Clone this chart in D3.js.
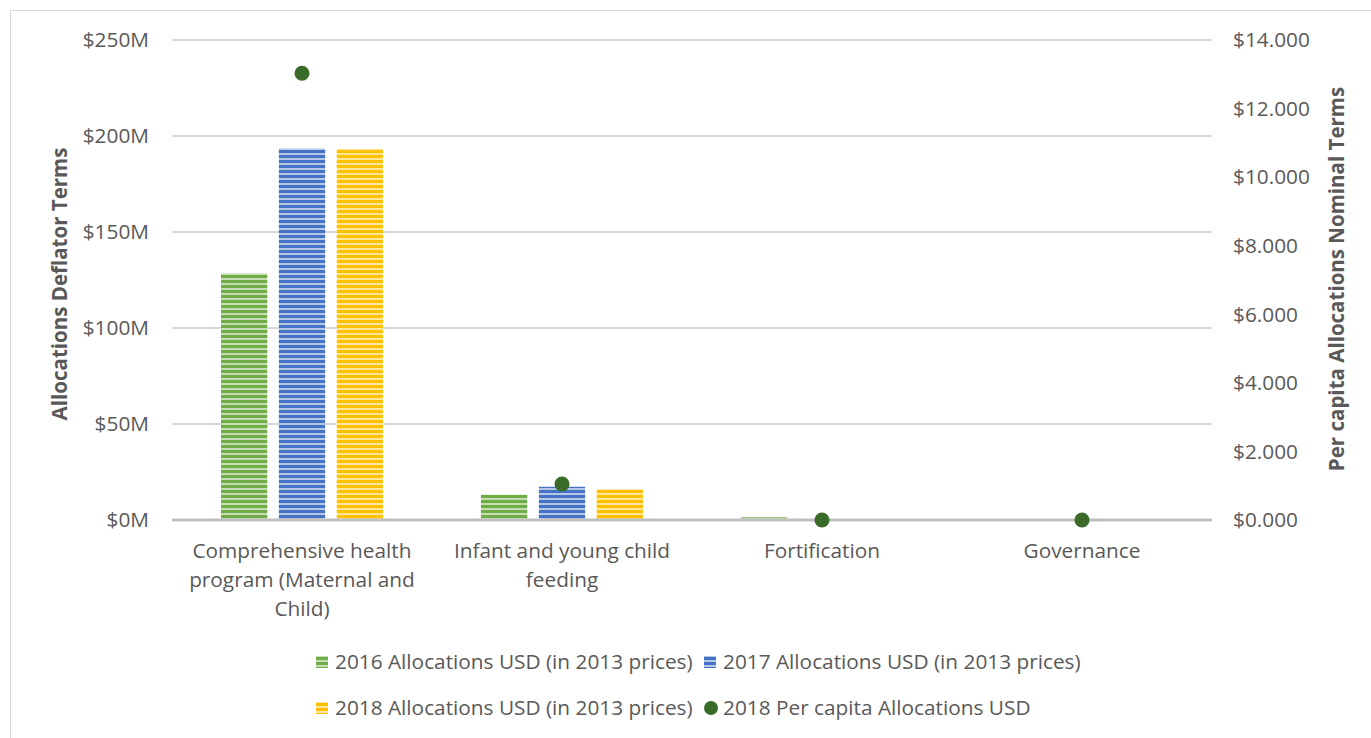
<!DOCTYPE html>
<html>
<head>
<meta charset="utf-8">
<script src="https://cdn.jsdelivr.net/npm/d3@7"></script>
<style>
  body { margin: 0; background: #fff; }
  svg { font-family: "Open Sans", "Noto Sans", sans-serif; }
</style>
</head>
<body>
<div id="chart"></div>
<script>
// données du graphique
const categories = [
  ["Comprehensive health", "program (Maternal and", "Child)"],
  ["Infant and young child", "feeding"],
  ["Fortification"],
  ["Governance"]
];
const seriesNames = [
  "2016 Allocations USD (in 2013 prices)",
  "2017 Allocations USD (in 2013 prices)",
  "2018 Allocations USD (in 2013 prices)"
];
const alloc2016 = [128.5, 13.2, 1.4, 0.3];
const alloc2017 = [193.5, 17.3, 0.3, 0.3];
const alloc2018 = [193.3, 16.0, 0.3, 0.3];
const perCapita2018 = [13.03, 1.05, 0.0, 0.0];
const leftTicks = [0, 50, 100, 150, 200, 250];
const rightTicks = [0, 2, 4, 6, 8, 10, 12, 14];

const width = 1371, height = 738;
const margin = { left: 172, right: 159, top: 40, bottom: 218 };
const colors = ["#70ad47", "#4472c4", "#ffc000"];
const dotColor = "#3a6b28";
const fontSize = 20.8;
const titleSize = 20.5;

const svg = d3.select("#chart").append("svg")
  .attr("width", width).attr("height", height);

// motifs rayés pour les barres
const defs = svg.append("defs");
colors.forEach((c, i) => {
  const p = defs.append("pattern")
    .attr("id", "stripe" + i)
    .attr("patternUnits", "userSpaceOnUse")
    .attr("width", 8).attr("height", 5);
  p.append("rect").attr("width", 8).attr("height", 5).attr("fill", c);
  p.append("rect").attr("y", 3).attr("width", 8).attr("height", 2)
    .attr("fill", "#fff").attr("opacity", 0.6);
});

// cadre
svg.append("rect")
  .attr("x", 10.5).attr("y", 10.5)
  .attr("width", width + 20).attr("height", height + 20)
  .attr("fill", "none").attr("stroke", "#d9d9d9");

const x0 = d3.scaleBand()
  .domain(d3.range(categories.length))
  .range([margin.left, width - margin.right]);
const x1 = d3.scaleBand()
  .domain([0, 1, 2])
  .range([0, 162])
  .paddingInner(0.2);
const y = d3.scaleLinear().domain([0, 250]).range([height - margin.bottom, margin.top]);
const y2 = d3.scaleLinear().domain([0, 14]).range([height - margin.bottom, margin.top]);

// grille
svg.append("g").selectAll("line")
  .data(leftTicks.slice(1))
  .join("line")
  .attr("x1", margin.left).attr("x2", width - margin.right)
  .attr("y1", d => y(d)).attr("y2", d => y(d))
  .attr("stroke", "#d9d9d9").attr("stroke-width", 2);

// étiquettes axe gauche
svg.append("g").selectAll("text")
  .data(leftTicks)
  .join("text")
  .attr("x", 149).attr("y", d => y(d))
  .attr("dy", "0.35em")
  .attr("text-anchor", "end")
  .attr("font-size", fontSize).attr("fill", "#595959")
  .text(d => "$" + d + "M");

// étiquettes axe droit
svg.append("g").selectAll("text")
  .data(rightTicks)
  .join("text")
  .attr("x", 1233).attr("y", d => y2(d))
  .attr("dy", "0.35em")
  .attr("font-size", fontSize).attr("fill", "#595959")
  .text(d => "$" + d3.format(".3f")(d));

// barres
const series = [alloc2016, alloc2017, alloc2018];
const groups = svg.append("g").selectAll("g")
  .data(categories.map((c, i) => i))
  .join("g")
  .attr("transform", i => `translate(${x0(i) + x0.bandwidth() / 2 - 81},0)`);
groups.selectAll("rect")
  .data(i => series.map((s, k) => ({ k, v: s[i] })))
  .join("rect")
  .attr("x", d => x1(d.k))
  .attr("width", x1.bandwidth())
  .attr("y", d => y(d.v))
  .attr("height", d => y(0) - y(d.v))
  .attr("fill", d => `url(#stripe${d.k})`);

// ligne de base
svg.append("line")
  .attr("x1", margin.left).attr("x2", width - margin.right)
  .attr("y1", y(0)).attr("y2", y(0))
  .attr("stroke", "#bfbfbf").attr("stroke-width", 3);

// points par habitant
svg.append("g").selectAll("circle")
  .data(perCapita2018)
  .join("circle")
  .attr("cx", (d, i) => x0(i) + x0.bandwidth() / 2)
  .attr("cy", d => y2(d))
  .attr("r", 7.5)
  .attr("fill", dotColor);

// étiquettes des catégories
svg.append("g").selectAll("text")
  .data(categories)
  .join("text")
  .attr("x", (d, i) => x0(i) + x0.bandwidth() / 2)
  .attr("y", 558)
  .attr("text-anchor", "middle")
  .attr("font-size", fontSize).attr("fill", "#595959")
  .selectAll("tspan")
  .data(d => d)
  .join("tspan")
  .attr("x", function () { return this.parentNode.getAttribute("x"); })
  .attr("dy", (d, j) => j === 0 ? 0 : 29)
  .text(d => d);

// titres des axes
svg.append("text")
  .attr("transform", `translate(67,284) rotate(-90)`)
  .attr("text-anchor", "middle")
  .attr("font-size", titleSize).attr("font-weight", "bold").attr("fill", "#595959")
  .text("Allocations Deflator Terms");
svg.append("text")
  .attr("transform", `translate(1344,279) rotate(-90)`)
  .attr("text-anchor", "middle")
  .attr("font-size", titleSize).attr("font-weight", "bold").attr("fill", "#595959")
  .text("Per capita Allocations Nominal Terms");

// légende
const legendItems = [
  { type: "rect", k: 0, label: seriesNames[0], x: 316, y: 662 },
  { type: "rect", k: 1, label: seriesNames[1], x: 704, y: 662 },
  { type: "rect", k: 2, label: seriesNames[2], x: 316, y: 708 },
  { type: "dot", label: "2018 Per capita Allocations USD", x: 704, y: 708 }
];
const leg = svg.append("g").selectAll("g")
  .data(legendItems)
  .join("g")
  .attr("transform", d => `translate(${d.x},${d.y})`);
leg.filter(d => d.type === "rect").append("rect")
  .attr("x", 0).attr("y", -6).attr("width", 12).attr("height", 12)
  .attr("fill", d => `url(#stripe${d.k})`);
leg.filter(d => d.type === "dot").append("circle")
  .attr("cx", 7).attr("cy", 0).attr("r", 7)
  .attr("fill", dotColor);
leg.append("text")
  .attr("x", 19).attr("dy", "0.35em")
  .attr("font-size", fontSize).attr("fill", "#595959")
  .text(d => d.label);
</script>
</body>
</html>
